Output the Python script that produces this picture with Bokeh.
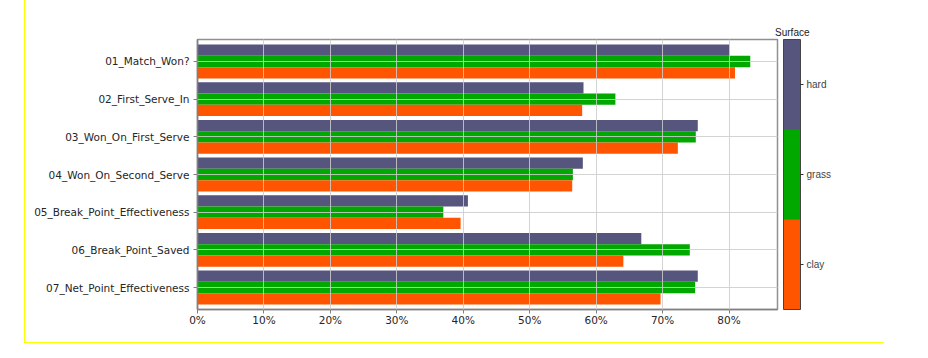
from bokeh.plotting import figure
from bokeh.models import (FactorRange, Range1d, ColumnDataSource, LinearColorMapper,
                          ColorBar, FixedTicker, NumeralTickFormatter, Title)
from bokeh.transform import dodge
from bokeh.embed import file_html
from bokeh.resources import INLINE

categories = ["01_Match_Won?", "02_First_Serve_In", "03_Won_On_First_Serve",
              "04_Won_On_Second_Serve", "05_Break_Point_Effectiveness",
              "06_Break_Point_Saved", "07_Net_Point_Effectiveness"]
surfaces = ["hard", "grass", "clay"]
hard = [0.801, 0.581, 0.753, 0.580, 0.407, 0.668, 0.753]
grass = [0.832, 0.629, 0.750, 0.565, 0.370, 0.741, 0.749]
clay = [0.809, 0.579, 0.723, 0.564, 0.396, 0.641, 0.697]
x_ticks = [0.0, 0.1, 0.2, 0.3, 0.4, 0.5, 0.6, 0.7, 0.8]
surface_colors = ["#56557d", "#00a800", "#ff5500"]

y_factors = categories[::-1]
p = figure(y_range=FactorRange(factors=y_factors, range_padding=0.084,
                               range_padding_units="absolute"),
           x_range=Range1d(0, 0.873),
           width=860, height=343, output_backend="svg", toolbar_location=None,
           min_border_left=172, min_border_right=108, min_border_top=39,
           min_border_bottom=34, margin=(0, 0, 0, 24),
           styles={"border-left": "1px solid #ffff00",
                   "border-bottom": "1px solid #ffff00"})

offsets = [0.3, 0.0, -0.3]
for name, vals, col, off in zip(surfaces, [hard, grass, clay], surface_colors, offsets):
    src = ColumnDataSource(dict(cat=categories, val=vals))
    p.hbar(y=dodge("cat", off, range=p.y_range), right="val", left=0, height=0.3,
           source=src, fill_color=col, line_color=None)

p.xaxis.ticker = FixedTicker(ticks=x_ticks)
p.xaxis.formatter = NumeralTickFormatter(format="0%")
for ax in (p.xaxis, p.yaxis):
    ax.major_label_text_font = "DejaVu Sans"
    ax.major_label_text_font_size = "10.5px"
    ax.major_label_text_color = "#262626"
    ax.axis_line_color = "#808080"
    ax.axis_line_width = 1.5
    ax.major_tick_line_color = "#808080"
    ax.major_tick_out = 4
    ax.major_tick_in = 0
    ax.minor_tick_line_color = None
p.xaxis.major_label_standoff = 0
p.yaxis.major_label_standoff = 4

p.outline_line_color = "#909090"
p.outline_line_width = 1.5
p.xgrid.grid_line_color = "#cccccc"
p.ygrid.grid_line_color = "#cccccc"
p.xgrid.grid_line_alpha = 0.85
p.ygrid.grid_line_alpha = 0.85
p.xgrid.level = "overlay"
p.ygrid.level = "overlay"

p.title.text = "Surface"
p.title.align = "right"
p.title.offset = -32
p.title.standoff = 3
p.title.text_font = "Liberation Sans"
p.title.text_font_size = "10px"
p.title.text_font_style = "normal"
p.title.text_color = "#222222"

# thin empty spacer between frame and colour bar
p.add_layout(Title(text=" ", text_font_size="1px", standoff=3), "right")

mapper = LinearColorMapper(palette=surface_colors[::-1], low=0, high=3)
cb = ColorBar(color_mapper=mapper, ticker=FixedTicker(ticks=[0.5, 1.5, 2.5]),
              major_label_overrides={0.5: "clay", 1.5: "grass", 2.5: "hard"},
              width=17, padding=0, margin=0, bar_line_color="#444444",
              major_tick_out=3, major_tick_in=0, major_tick_line_color="#333333",
              major_label_text_font="Liberation Sans",
              major_label_text_font_size="10px", label_standoff=3,
              border_line_color=None, background_fill_color=None)
p.add_layout(cb, "right")

open("out.html", "w").write(file_html(p, INLINE))
